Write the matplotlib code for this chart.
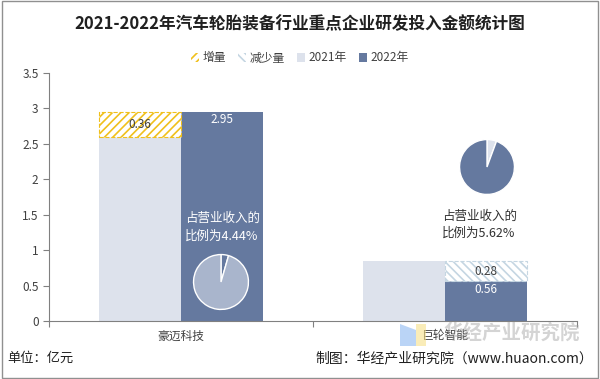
import numpy as np
import matplotlib
matplotlib.use("Agg")
import matplotlib.pyplot as plt
from matplotlib.patches import Patch, Rectangle, Polygon

plt.rcParams['font.family'] = ['Noto Sans CJK SC', 'DejaVu Sans']
plt.rcParams['hatch.linewidth'] = 1.2

# ── data ──────────────────────────────────────────────
companies = ["豪迈科技", "巨轮智能"]
v2021 = [2.59, 0.84]
v2022 = [2.95, 0.56]
change = [0.36, -0.28]
revenue_share = [4.44, 5.62]
yticks = [0, 0.5, 1, 1.5, 2, 2.5, 3, 3.5]

C21 = "#dde2ec"
C22 = "#65799f"
CUP = "#f0c01c"
CDN = "#c5d6e2"

W, H = 600, 379
fig = plt.figure(figsize=(6, 3.79), dpi=100)
ax = fig.add_axes([49 / W, 1 - 321 / H, 528 / W, 248 / H])

x = np.arange(len(companies))
bw = 0.31
ax.bar(x - bw / 2, v2021, bw, color=C21, zorder=2)
ax.bar(x + bw / 2, v2022, bw, color=C22, zorder=2)

# change segments
for i, d in enumerate(change):
    if d >= 0:
        ax.bar(x[i] - bw / 2, d, bw, bottom=v2021[i], facecolor="white",
               edgecolor=CUP, hatch="////", lw=0.8, ls="--", zorder=2)
        ax.text(x[i] - bw / 2, v2021[i] + d / 2, f"{d:.2f}", ha="center",
                va="center", fontsize=8.5, color="#404040", zorder=3)
    else:
        ax.bar(x[i] + bw / 2, -d, bw, bottom=v2022[i], facecolor="white",
               edgecolor=CDN, hatch="\\\\\\\\", lw=0.8, ls="--", zorder=2)
        ax.text(x[i] + bw / 2, v2022[i] - d / 2, f"{-d:.2f}", ha="center",
                va="center", fontsize=8.5, color="#404040", zorder=3)

# 2022 value labels
for i, v in enumerate(v2022):
    ax.text(x[i] + bw / 2, v - 0.11, f"{v:.2f}", ha="center", va="center",
            fontsize=8.5, color="white", zorder=3)

ax.set_xlim(-0.5, 1.5)
ax.set_ylim(0, 3.5)
ax.set_yticks(yticks)
ax.set_yticklabels([f"{t:g}" for t in yticks], fontsize=8.5, color="#404040")
ax.set_xticks([-0.5, 0.5, 1.5])
ax.set_xticklabels([])
ax.set_xticks(x, minor=True)
ax.set_xticklabels(companies, minor=True, fontsize=8.5, color="#404040")
ax.tick_params(axis="x", which="minor", length=0, pad=6)
ax.tick_params(axis="x", which="major", length=4, direction="out", color="#808080")
ax.tick_params(axis="y", length=4, color="#808080")
for s in ["top", "right"]:
    ax.spines[s].set_visible(False)
for s in ["left", "bottom"]:
    ax.spines[s].set_color("#808080")

# revenue share pies + notes
pie_specs = [
    ((221, 282), [revenue_share[0], 100 - revenue_share[0]], [C22, "#a9b5cc"]),
    ((487, 167), [revenue_share[1], 100 - revenue_share[1]], [C21, C22]),
]
R = 28
for (cx, cy), vals, cols in pie_specs:
    pax = fig.add_axes([(cx - R) / W, 1 - (cy + R) / H, 2 * R / W, 2 * R / H])
    pax.pie(vals, colors=cols, startangle=90, counterclock=False,
            wedgeprops=dict(edgecolor="white", linewidth=1))
    pax.set_xlim(-1.02, 1.02)
    pax.set_ylim(-1.02, 1.02)
    pax.set_aspect("equal")

fig.text(185 / W, 1 - 218 / H, "占营业收入的", fontsize=9, color="white",
         va="center")
fig.text(185 / W, 1 - 236 / H, f"比例为{revenue_share[0]:.2f}%", fontsize=9,
         color="white", va="center")
fig.text(442 / W, 1 - 216 / H, "占营业收入的", fontsize=9, color="#303030",
         va="center")
fig.text(442 / W, 1 - 233 / H, f"比例为{revenue_share[1]:.2f}%", fontsize=9,
         color="#303030", va="center")

# title + legend
fig.text(0.5, 1 - 24 / H, "2021-2022年汽车轮胎装备行业重点企业研发投入金额统计图",
         ha="center", va="center", fontsize=12, fontweight="bold", color="#202020")
handles = [
    Patch(facecolor="white", edgecolor=CUP, hatch="////", lw=0),
    Patch(facecolor="white", edgecolor=CDN, hatch="\\\\\\\\", lw=0),
    Patch(facecolor=C21),
    Patch(facecolor=C22),
]
fig.legend(handles, ["增量", "减少量", "2021年", "2022年"], loc="center",
           bbox_to_anchor=(0.5, 1 - 58 / H), ncol=4, frameon=False, fontsize=8.5,
           handlelength=0.7, handleheight=0.7, handletextpad=0.3, columnspacing=1.0,
           labelcolor="#404040")

# footer + watermark logo
fig.text(7 / W, 1 - 358 / H, "单位：亿元", fontsize=9.5, va="center", color="#202020")
fig.text(593 / W, 1 - 358 / H, "制图：华经产业研究院（www.huaon.com）", fontsize=10,
         va="center", ha="right", color="#202020")
fig.add_artist(Polygon([(400 / W, 1 - 324 / H), (416 / W, 1 - 330 / H),
                        (416 / W, 1 - 346 / H), (400 / W, 1 - 346 / H)],
                       closed=True, transform=fig.transFigure,
                       facecolor="#8db8f0", alpha=0.6, lw=0))
fig.add_artist(Rectangle((416 / W, 1 - 346 / H), 10 / W, 22 / H,
                         transform=fig.transFigure, facecolor="#f6e08a",
                         alpha=0.6, lw=0))
fig.text(580 / W, 1 - 333 / H, "华经产业研究院", fontsize=14, fontweight="bold",
         ha="right", va="center", color="#a0a0a0", alpha=0.45)

# outer border
fig.add_artist(Rectangle((0.003, 0.003), 0.994, 0.994, transform=fig.transFigure,
                         fill=False, edgecolor="#909090", lw=1))

fig.savefig("out.png", dpi=100)
